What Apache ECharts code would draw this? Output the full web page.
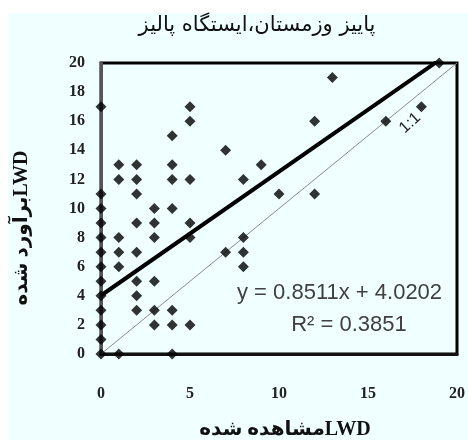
<!DOCTYPE html>
<html>
<head>
<meta charset="utf-8">
<script src="https://cdn.jsdelivr.net/npm/echarts@6/dist/echarts.min.js"></script>
<style>
  html, body { margin: 0; padding: 0; background: #fff; }
  #chart { width: 468px; height: 440px; }
</style>
</head>
<body>
<div id="chart"></div>
<script>
// observed LWD vs estimated LWD (autumn + winter, Paliz station)
var observed = [0,0,0,0,0,0,0,0,0,0,0,0,0,
	1,1,1,1,1,1,
	2,2,2,2,2,2,2,2,
	3,3,3,3,3,3,
	4,4,4,4,4,4,4,
	5,5,5,5,5,5,
	7,7,
	8,8,8,8,
	9, 10, 12,12, 13, 16, 18, 19];
var estimated = [0,1,2,3,4,5,6,7,8,9,10,11,17,
	0,6,7,8,12,13,
	3,4,5,7,9,11,12,13,
	2,3,5,8,9,10,
	0,2,3,10,12,13,15,
	2,8,9,12,16,17,
	7,14,
	6,7,8,12,
	13, 11, 11,16, 19, 16, 17, 20];

var slope = 0.8511;
var intercept = 4.0202;
var fitRange = [0, 19];
var oneToOne = [0, 20];

var xTicks = [0, 20, 5];  // min, max, interval
var yTicks = [0, 20, 2];

function draw_scatter(idname) {
	let mychart = echarts.init(document.getElementById(idname));

	var points = [];
	for (var i = 0; i < observed.length; i++) {
		points.push([observed[i], estimated[i]]);
	}
	var fitLine = [];
	for (var j = 0; j < fitRange.length; j++) {
		fitLine.push([fitRange[j], slope * fitRange[j] + intercept]);
	}
	var refLine = [[oneToOne[0], oneToOne[0]], [oneToOne[1], oneToOne[1]]];

	var tickFont = {
		color: '#222',
		fontFamily: 'Liberation Serif',
		fontWeight: 'bold',
		fontSize: 16
	};

	let option = {
		backgroundColor: '#fff',
		animation: false,
		graphic: [{
				type: 'rect',
				shape: { x: 8, y: 13, width: 460, height: 427 },
				style: { fill: '#f0ffff' },
				z: -10
			},
			{
				type: 'text',
				x: 257, y: 26,
				style: {
					text: 'پاییز وزمستان،ایستگاه پالیز',
					font: '21px "DejaVu Sans"',
					fill: '#111',
					align: 'center',
					verticalAlign: 'middle'
				}
			},
			{
				type: 'text',
				x: 22, y: 228,
				rotation: Math.PI / 2,
				style: {
					text: 'برآورد شدهLWD',
					font: 'bold 20px "Liberation Serif", "DejaVu Sans"',
					fill: '#111',
					align: 'center',
					verticalAlign: 'middle'
				}
			},
			{
				type: 'text',
				x: 285, y: 430,
				style: {
					text: 'مشاهده شدهLWD',
					font: 'bold 20px "Liberation Serif", "DejaVu Sans"',
					fill: '#111',
					align: 'center',
					verticalAlign: 'middle'
				}
			},
			{
				type: 'text',
				x: 410, y: 123,
				rotation: 0.75,
				style: {
					text: '1:1',
					font: '16px "Liberation Sans"',
					fill: '#222',
					align: 'center',
					verticalAlign: 'middle'
				}
			},
			{
				type: 'text',
				x: 237, y: 293,
				style: {
					text: 'y = 0.8511x + 4.0202',
					font: '22px "Liberation Sans"',
					fill: '#404040',
					align: 'left',
					verticalAlign: 'middle'
				}
			},
			{
				type: 'text',
				x: 349, y: 325,
				style: {
					text: 'R² = 0.3851',
					font: '22px "Liberation Sans"',
					fill: '#404040',
					align: 'center',
					verticalAlign: 'middle'
				}
			}
		],
		grid: {
			left: 101,
			right: 11,
			top: 63,
			bottom: 86,
			show: true,
			backgroundColor: 'transparent',
			borderColor: '#000',
			borderWidth: 3
		},
		xAxis: {
			type: 'value',
			min: xTicks[0],
			max: xTicks[1],
			interval: xTicks[2],
			splitLine: { show: false },
			axisTick: { show: false },
			axisLine: { lineStyle: { color: '#111', width: 3 } },
			axisLabel: Object.assign({ margin: 32 }, tickFont)
		},
		yAxis: {
			type: 'value',
			min: yTicks[0],
			max: yTicks[1],
			interval: yTicks[2],
			splitLine: { show: false },
			axisTick: { show: false },
			axisLine: { lineStyle: { color: '#555', width: 3 } },
			axisLabel: Object.assign({ margin: 16 }, tickFont)
		},
		series: [{
				type: 'line',
				data: refLine,
				symbol: 'none',
				lineStyle: { color: '#8a8a8a', width: 1 },
				z: 1
			},
			{
				type: 'line',
				data: fitLine,
				symbol: 'none',
				clip: true,
				lineStyle: { color: '#000', width: 4 },
				z: 2
			},
			{
				type: 'scatter',
				data: points,
				symbol: 'diamond',
				symbolSize: 11,
				itemStyle: { color: '#000' },
				z: 3
			}
		]
	};

	mychart.setOption(option);
}

draw_scatter('chart');
</script>
</body>
</html>
